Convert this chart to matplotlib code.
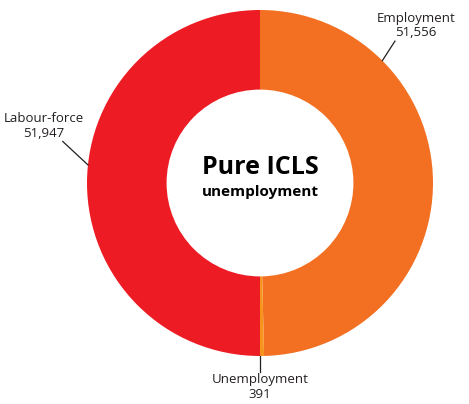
import numpy as np
import matplotlib.pyplot as plt

# data
labels = ["Employment", "Unemployment", "Labour-force"]
values = [51556, 391, 51947]
colors = ["#F36F21", "#F7941D", "#ED1C24"]

plt.rcParams['font.family'] = ['Open Sans', 'DejaVu Sans']

W, H = 469, 404
fig = plt.figure(figsize=(W / 100, H / 100), dpi=100)
cx, cy, R = 260, 183, 173
ax = fig.add_axes([(cx - R) / W, (H - cy - R) / H, 2 * R / W, 2 * R / H])

wedges, _ = ax.pie(values, colors=colors, startangle=90, counterclock=False,
                   radius=1, wedgeprops=dict(width=0.46, linewidth=0))
ax.set_xlim(-1, 1)
ax.set_ylim(-1, 1)
ax.axis("off")

# label placement: angle on outer edge, line end, text position (axes units)
label_pos = {
    "Employment":   (45,  (0.78, 0.82), (0.90, 0.83), "bottom"),
    "Labour-force": (174, (-1.14, 0.24), (-1.25, 0.25), "bottom"),
    "Unemployment": (-90, (0.0, -1.09), (0.0, -1.10), "top"),
}
for name, v in zip(labels, values):
    ang, (lx, ly), (tx, ty), va = label_pos[name]
    a = np.deg2rad(ang)
    ex, ey = np.cos(a), np.sin(a)
    ax.plot([ex, lx], [ey, ly], color="#231F20", lw=0.9, clip_on=False)
    ax.text(tx, ty, f"{name}\n{v:,}", ha="center", va=va, fontsize=9.5,
            color="#231F20", linespacing=1.15)

ax.text(0, 0.09, "Pure ICLS", ha="center", va="center", fontsize=18,
        fontweight="bold", color="black")
ax.text(0, -0.05, "unemployment", ha="center", va="center", fontsize=11,
        fontweight="bold", color="black")

fig.savefig("out.png", dpi=100)
